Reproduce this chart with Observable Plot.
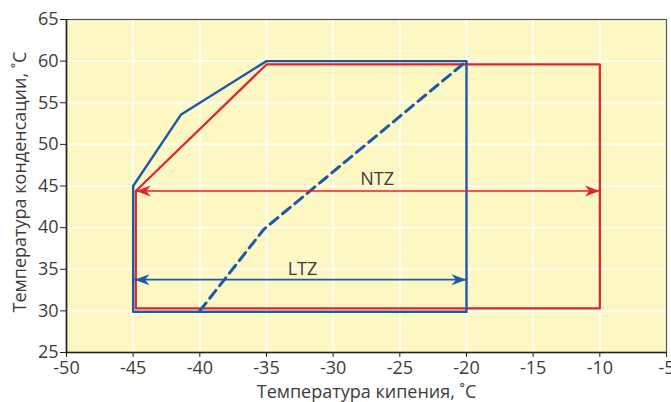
<!DOCTYPE html>
<html>
<head>
<meta charset="utf-8">
<script src="https://cdn.jsdelivr.net/npm/d3@7"></script>
<script src="https://cdn.jsdelivr.net/npm/@observablehq/plot@0.6"></script>
<style>
  html, body { margin: 0; padding: 0; background: #ffffff; }
</style>
</head>
<body>
<div id="chart"></div>
<script>
// Axis ticks
const xTicks = [-50, -45, -40, -35, -30, -25, -20, -15, -10, -5];
const yTicks = [25, 30, 35, 40, 45, 50, 55, 60, 65];

// NTZ envelope (red)
const ntzX = [-44.8, -44.8, -35, -10, -10, -44.8];
const ntzY = [30.3, 44.4, 59.6, 59.6, 30.3, 30.3];

// LTZ envelope (blue)
const ltzX = [-45, -45, -41.4, -35, -20, -20, -45];
const ltzY = [29.9, 45, 53.6, 60, 60, 29.9, 29.9];

// LTZ dashed boundary (blue)
const dashX = [-40, -35.2, -20];
const dashY = [30, 39.8, 60];

// Range arrows
const ntzArrowX = [-44.8, -10];
const ntzArrowY = [44.4, 44.4];
const ltzArrowX = [-44.9, -20];
const ltzArrowY = [33.75, 33.75];

// Labels
const zoneLabels = ["NTZ", "LTZ"];
const labelX = [-26.7, -32.3];
const labelY = [45.8, 35.0];

const red = "#e2232b";
const blue = "#1d59a8";

const toPts = (xs, ys) => xs.map((x, i) => ({x, y: ys[i]}));

const arrowHead = {
  draw(ctx) {
    ctx.moveTo(0, 0);
    ctx.lineTo(-15, -5.5);
    ctx.lineTo(-10.5, 0);
    ctx.lineTo(-15, 5.5);
    ctx.closePath();
  }
};

const headsFor = (xs, ys) => [
  {x: xs[0], y: ys[0], r: 180},
  {x: xs[1], y: ys[1], r: 0}
];

const FS = 18;

const chart = Plot.plot({
  width: 671,
  height: 402,
  marginLeft: 66,
  marginRight: 5,
  marginTop: 19,
  marginBottom: 50,
  style: {fontFamily: "'Open Sans', sans-serif", fontSize: FS + "px", color: "#3c3c3c", background: "#ffffff"},
  x: {domain: [-50, -5]},
  y: {domain: [25, 65]},
  marks: [
    Plot.frame({fill: "#fdf8c3", stroke: null}),
    Plot.gridX(xTicks, {stroke: "white", strokeOpacity: 1, strokeWidth: 1.6}),
    Plot.gridY(yTicks, {stroke: "white", strokeOpacity: 1, strokeWidth: 1.6}),
    Plot.frame({stroke: "#555", strokeWidth: 1.2}),
    Plot.ruleX([-50], {stroke: "#222", strokeWidth: 1.6}),
    Plot.ruleY([25], {stroke: "#222", strokeWidth: 1.6}),
    Plot.axisX(xTicks, {tickSize: 5, tickPadding: 4, fontSize: FS, tickFormat: d => String(d), label: null, stroke: "#222"}),
    Plot.axisY(yTicks, {tickSize: 6, tickPadding: 2, fontSize: FS, tickFormat: d => String(d), label: null, stroke: "#222"}),
    Plot.text(["Температура кипения, ˚C"], {frameAnchor: "bottom", textAnchor: "middle", lineAnchor: "middle", dy: 40, fontSize: FS, fill: "#3c3c3c"}),
    Plot.text(["Температура конденсации, ˚C"], {frameAnchor: "left", textAnchor: "middle", lineAnchor: "middle", dx: -46, dy: -4, rotate: -90, fontSize: FS, fill: "#3c3c3c"}),
    // red envelope
    Plot.line(toPts(ntzX, ntzY), {x: "x", y: "y", stroke: red, strokeWidth: 2.2, curve: "linear"}),
    // blue envelope
    Plot.line(toPts(ltzX, ltzY), {x: "x", y: "y", stroke: blue, strokeWidth: 2.4, curve: "linear"}),
    // blue dashed
    Plot.line(toPts(dashX, dashY), {x: "x", y: "y", stroke: blue, strokeWidth: 3, strokeDasharray: "10,6"}),
    // arrows
    Plot.line(toPts(ntzArrowX, ntzArrowY), {x: "x", y: "y", stroke: red, strokeWidth: 1.6}),
    Plot.dot(headsFor(ntzArrowX, ntzArrowY), {x: "x", y: "y", rotate: "r", symbol: arrowHead, fill: red, stroke: null}),
    Plot.line(toPts(ltzArrowX, ltzArrowY), {x: "x", y: "y", stroke: blue, strokeWidth: 1.6}),
    Plot.dot(headsFor(ltzArrowX, ltzArrowY), {x: "x", y: "y", rotate: "r", symbol: arrowHead, fill: blue, stroke: null}),
    // labels
    Plot.text(zoneLabels, {x: (d, i) => labelX[i], y: (d, i) => labelY[i], text: d => d, fontSize: FS, fill: "#3c3c3c"})
  ]
});

document.getElementById("chart").appendChild(chart);
</script>
</body>
</html>
